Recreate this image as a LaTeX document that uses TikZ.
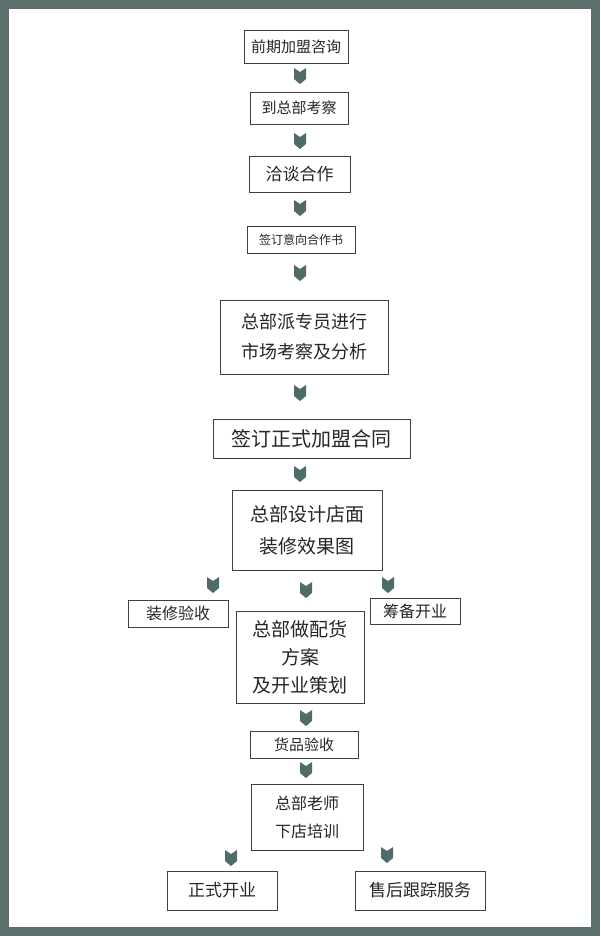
\documentclass[tikz,border=0pt]{standalone}
\usepackage{fontspec}
\newfontfamily\cjk{Noto Sans CJK SC}
\definecolor{frame}{HTML}{5B6F6D}
\definecolor{arr}{HTML}{4F6B6A}
\tikzset{
  box/.style={draw=black!75,line width=0.8pt,fill=white,inner sep=0pt,align=center,font=\cjk,text=black!85},
  chev/.pic={\fill[arr] (-6,8) -- (0,4) -- (6,8) -- (6,-3) -- (0,-8) -- (-6,-3) -- cycle;}
}
\newcommand\bx[6]{\node[box,minimum width=#3-#1,minimum height=#4-#2,font=\cjk\fontsize{#5}{#5*1.5}\selectfont,align=center] (n#6) at ({(#1+#3)/2},{-(#2+#4)/2}) {};}
\begin{document}
\begin{tikzpicture}[x=1pt,y=1pt]
\fill[white] (0,0) rectangle (600,-936);
\draw[frame,line width=9pt] (4.5,-4.5) rectangle (595.5,-931.5);
\tikzset{lbl/.style={font=\cjk,text=black!85,align=center}}
\node[box,minimum width=104,minimum height=33,font=\cjk\fontsize{15}{18}\selectfont] (a) at (296,-46.5) {前期加盟咨询};
\node[box,minimum width=98,minimum height=32,font=\cjk\fontsize{15}{18}\selectfont] (b) at (299,-108) {到总部考察};
\node[box,minimum width=101,minimum height=36,font=\cjk\fontsize{17}{20}\selectfont] (c) at (299.5,-174) {洽谈合作};
\node[box,minimum width=108,minimum height=27,font=\cjk\fontsize{12}{14}\selectfont] (d) at (301,-239.5) {签订意向合作书};
\node[box,minimum width=168,minimum height=74,font=\cjk\fontsize{18}{30}\selectfont] (e) at (304,-337) {总部派专员进行\\市场考察及分析};
\node[box,minimum width=197,minimum height=39,font=\cjk\fontsize{20}{24}\selectfont] (f) at (311.5,-438.5) {签订正式加盟合同};
\node[box,minimum width=150,minimum height=80,font=\cjk\fontsize{19}{32}\selectfont] (g) at (307,-530) {总部设计店面\\装修效果图};
\node[box,minimum width=100,minimum height=27,font=\cjk\fontsize{16}{19}\selectfont] (h) at (178,-613.5) {装修验收};
\node[box,minimum width=128,minimum height=92,font=\cjk\fontsize{19}{28}\selectfont] (i) at (300,-657) {总部做配货\\方案\\及开业策划};
\node[box,minimum width=90,minimum height=26,font=\cjk\fontsize{16}{19}\selectfont] (j) at (415,-611) {筹备开业};
\node[box,minimum width=108,minimum height=27,font=\cjk\fontsize{15}{18}\selectfont] (k) at (304,-744.5) {货品验收};
\node[box,minimum width=112,minimum height=66,font=\cjk\fontsize{16}{28}\selectfont] (l) at (307,-817) {总部老师\\下店培训};
\node[box,minimum width=110,minimum height=39,font=\cjk\fontsize{17}{20}\selectfont] (m) at (222,-890.5) {正式开业};
\node[box,minimum width=130,minimum height=39,font=\cjk\fontsize{17}{20}\selectfont] (o) at (420,-890.5) {售后跟踪服务};
\foreach \x/\y in {300/76,300/141,300/208,300/273,300/393,300/474,213/585,306/590,388/585,306/718,306/770,231/858,387/855}
  \pic at (\x,-\y) {chev};
\end{tikzpicture}
\end{document}
